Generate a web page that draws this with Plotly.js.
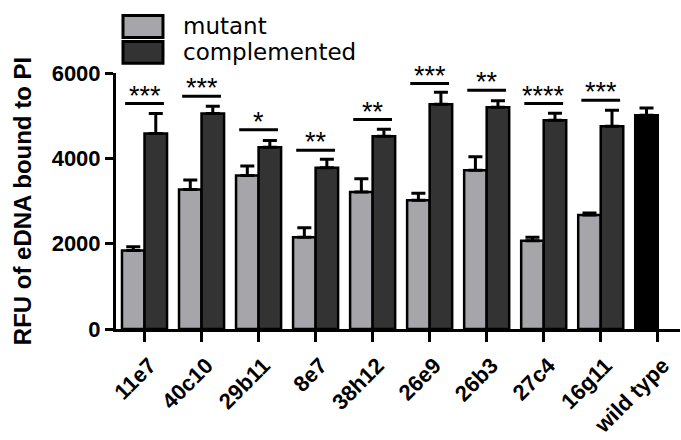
<!DOCTYPE html>
<html>
<head>
<meta charset="utf-8">
<script src="https://cdn.plot.ly/plotly-3.0.1.min.js"></script>
<style>html,body{margin:0;padding:0;background:#fff;}#chart{width:681px;height:440px;}</style>
</head>
<body>
<div id="chart"></div>
<script>
// ---- data ----
var categories = ['11e7','40c10','29b11','8e7','38h12','26e9','26b3','27c4','16g11','wild type'];
var mutant      = [1840, 3270, 3600, 2150, 3210, 3020, 3720, 2070, 2670, 5010];
var mutantErr   = [85, 220, 220, 225, 310, 160, 320, 80, 50, 170];
var complemented    = [4580, 5050, 4260, 3780, 4520, 5270, 5200, 4890, 4750, null];
var complementedErr = [470, 170, 160, 200, 160, 280, 150, 165, 375, null];
var sigLabels = ['***','***','*','**','**','***','**','****','***'];
var sigHeights = [5284, 5455, 4667, 4192, 4910, 5752, 5595, 5284, 5361];
var seriesNames = ['mutant', 'complemented'];
var yTicks = [0, 2000, 4000, 6000];

// ---- styling ----
var FONT = 'Liberation Sans, Arial, sans-serif';
var mutantColor = '#a6a5aa';
var compColor = '#333333';
var wtColor = '#000000';

var mutantColors = categories.map(function(c, i){ return i === categories.length - 1 ? wtColor : mutantColor; });

var traces = [
  {
    type: 'bar', name: seriesNames[0], x: categories, y: mutant,
    marker: {color: mutantColors, line: {color: '#000', width: 2.5}},
    error_y: {type: 'data', array: mutantErr, arrayminus: mutant.map(function(){return 0;}), symmetric: false,
              color: '#000', thickness: 3, width: 7},
    showlegend: false
  },
  {
    type: 'bar', name: seriesNames[1], x: categories, y: complemented,
    marker: {color: compColor, line: {color: '#000', width: 2.5}},
    error_y: {type: 'data', array: complementedErr, arrayminus: complemented.map(function(){return 0;}), symmetric: false,
              color: '#000', thickness: 3, width: 7},
    showlegend: false
  }
];

var shapes = [];
var annotations = [];
sigLabels.forEach(function(lab, i){
  shapes.push({type: 'line', xref: 'x', yref: 'y', x0: i - 0.34, x1: i + 0.34, y0: sigHeights[i], y1: sigHeights[i],
               line: {color: '#000', width: 3}});
  annotations.push({xref: 'x', yref: 'y', x: i, y: sigHeights[i], text: lab, showarrow: false,
                    yanchor: 'bottom', xanchor: 'center', yshift: -9,
                    font: {family: FONT, size: 27, color: '#000'}});
});

// legend (custom, drawn in paper coords)
var legendColors = [mutantColor, compColor];
var legendRows = [[1.2249, 1.1391, 1.182], [1.1235, 1.0378, 1.0807]];
seriesNames.forEach(function(nm, k){
  shapes.push({type: 'rect', xref: 'paper', yref: 'paper', x0: 0.0124, x1: 0.0833,
               y0: legendRows[k][1], y1: legendRows[k][0],
               fillcolor: legendColors[k], line: {color: '#000', width: 3}});
  annotations.push({xref: 'paper', yref: 'paper', x: 0.115, y: legendRows[k][2], text: nm, showarrow: false,
                    xanchor: 'left', yanchor: 'middle',
                    font: {family: 'DejaVu Sans, sans-serif', size: 23, color: '#000'}});
});

var layout = {
  width: 681, height: 440,
  margin: {l: 116, r: 1, t: 73, b: 111},
  paper_bgcolor: '#fff', plot_bgcolor: '#fff',
  barmode: 'group', bargap: 0.21, bargroupgap: 0,
  showlegend: false,
  xaxis: {
    type: 'category', range: [-0.5, 9.39],
    showline: true, linecolor: '#000', linewidth: 3,
    ticks: 'outside', ticklen: 10, tickwidth: 3, tickcolor: '#000',
    tickangle: -45, showgrid: false, zeroline: false,
    ticklabelstandoff: 2, ticklabelshift: 5,
    tickfont: {family: FONT, size: 22, color: '#000', weight: 'bold'}
  },
  yaxis: {
    range: [0, 6000], tickvals: yTicks, ticktext: yTicks.map(String),
    showline: true, linecolor: '#000', linewidth: 3,
    ticks: 'outside', ticklen: 8, tickwidth: 3, tickcolor: '#000',
    showgrid: false, zeroline: false,
    tickfont: {family: FONT, size: 22, color: '#000', weight: 'bold'},
    title: {text: 'RFU of eDNA bound to PI', standoff: 14,
            font: {family: FONT, size: 24, color: '#000', weight: 'bold'}}
  },
  shapes: shapes,
  annotations: annotations
};

Plotly.newPlot('chart', traces, layout, {displayModeBar: false, staticPlot: true});
</script>
</body>
</html>
